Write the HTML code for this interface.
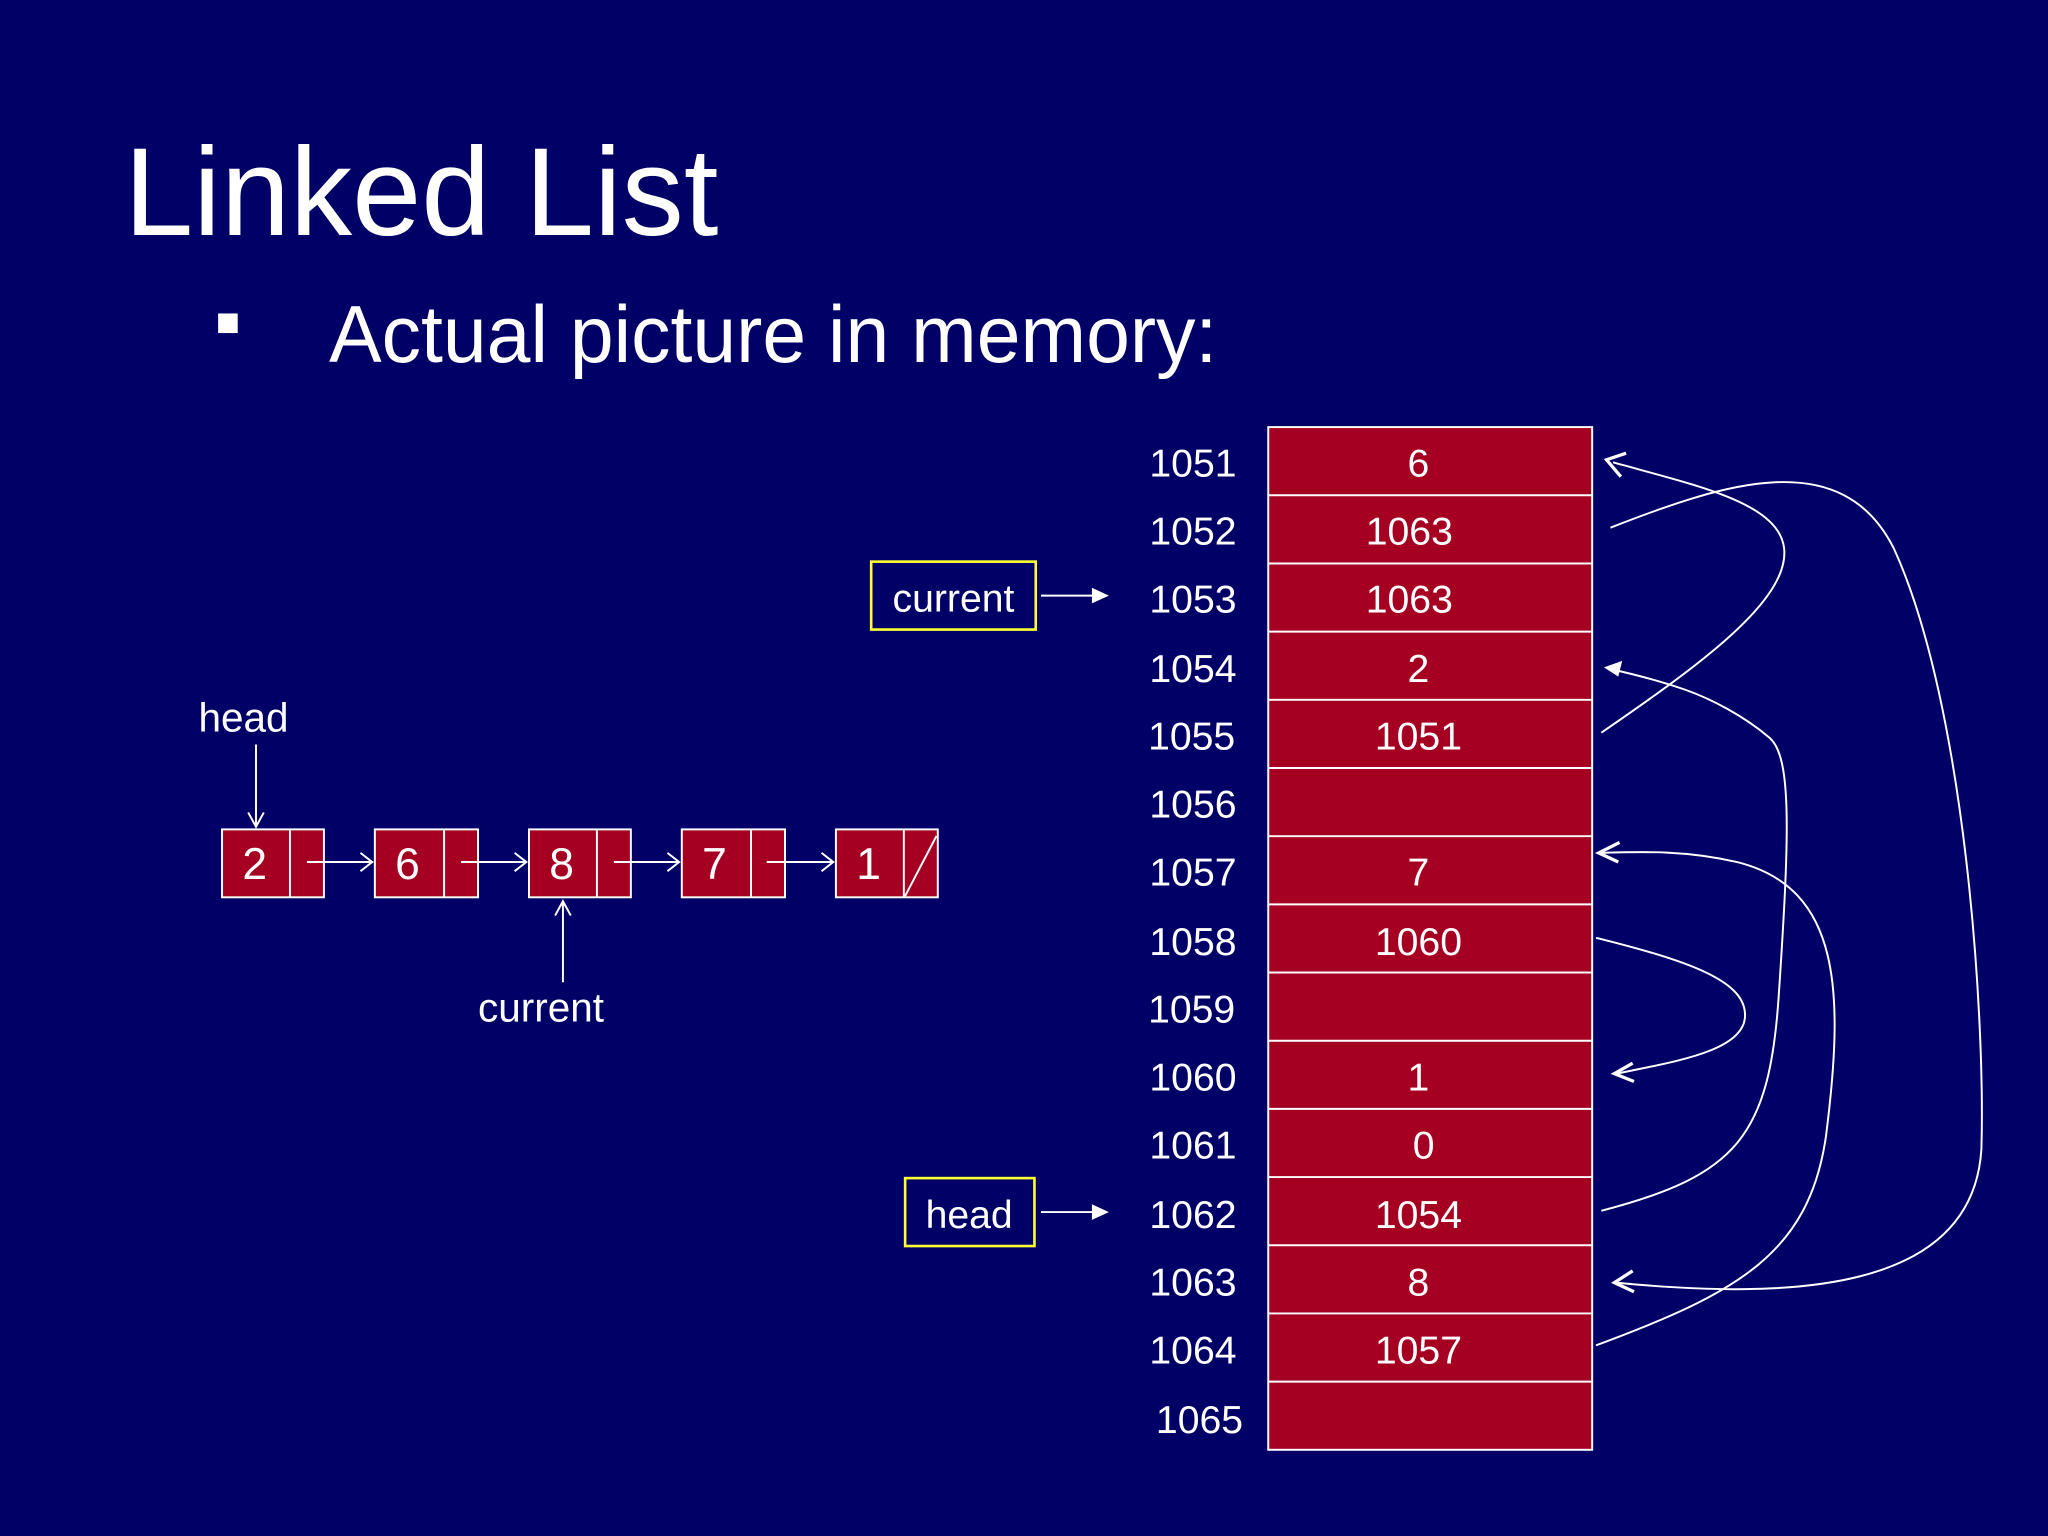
<!DOCTYPE html>
<html><head><meta charset="utf-8"><style>
html,body{margin:0;padding:0;background:#000066;}
svg{display:block;}
text{font-family:"Liberation Sans",Arial,sans-serif;fill:#fff;}
</style></head><body>
<svg width="2048" height="1536" viewBox="0 0 1568 1176" xmlns="http://www.w3.org/2000/svg">
<rect width="1568" height="1176" fill="#000066"/>
<text x="95" y="180" font-size="96" textLength="455" lengthAdjust="spacingAndGlyphs">Linked List</text>
<rect x="167" y="240" width="15" height="15" fill="#fff"/>
<text x="252" y="277" font-size="62" textLength="680" lengthAdjust="spacingAndGlyphs">Actual picture in memory:</text>

<!-- memory table -->
<g stroke="#fff" stroke-width="1.5">
<rect x="971" y="327" width="248" height="783" fill="#a50021"/>
<line x1="971" y1="379.2" x2="1219" y2="379.2"/><line x1="971" y1="431.4" x2="1219" y2="431.4"/>
<line x1="971" y1="483.6" x2="1219" y2="483.6"/><line x1="971" y1="535.8" x2="1219" y2="535.8"/>
<line x1="971" y1="588" x2="1219" y2="588"/><line x1="971" y1="640.2" x2="1219" y2="640.2"/>
<line x1="971" y1="692.4" x2="1219" y2="692.4"/><line x1="971" y1="744.6" x2="1219" y2="744.6"/>
<line x1="971" y1="796.8" x2="1219" y2="796.8"/><line x1="971" y1="849" x2="1219" y2="849"/>
<line x1="971" y1="901.2" x2="1219" y2="901.2"/><line x1="971" y1="953.4" x2="1219" y2="953.4"/>
<line x1="971" y1="1005.6" x2="1219" y2="1005.6"/><line x1="971" y1="1057.8" x2="1219" y2="1057.8"/>
</g>
<g font-size="30">
<text x="880" y="365">1051</text><text x="880" y="417">1052</text><text x="880" y="469">1053</text>
<text x="880" y="522">1054</text><text x="879" y="574">1055</text><text x="880" y="626">1056</text>
<text x="880" y="678">1057</text><text x="880" y="731">1058</text><text x="879" y="783">1059</text>
<text x="880" y="835">1060</text><text x="880" y="887">1061</text><text x="880" y="940">1062</text>
<text x="880" y="992">1063</text><text x="880" y="1044">1064</text><text x="885" y="1097">1065</text>
</g>
<g font-size="30" text-anchor="middle">
<text x="1086" y="365">6</text><text x="1079" y="417">1063</text><text x="1079" y="469">1063</text>
<text x="1086" y="522">2</text><text x="1086" y="574">1051</text>
<text x="1086" y="678">7</text><text x="1086" y="731">1060</text>
<text x="1086" y="835">1</text><text x="1090" y="887">0</text><text x="1086" y="940">1054</text>
<text x="1086" y="992">8</text><text x="1086" y="1044">1057</text>
</g>

<!-- yellow labels -->
<rect x="667" y="430" width="126" height="52" fill="none" stroke="#ffff33" stroke-width="2"/>
<text x="730" y="468" font-size="30" text-anchor="middle">current</text>
<rect x="693" y="902" width="99" height="52" fill="none" stroke="#ffff33" stroke-width="2"/>
<text x="742" y="940" font-size="30" text-anchor="middle">head</text>
<g stroke="#fff" stroke-width="1.5"><line x1="797" y1="456" x2="838" y2="456"/><line x1="797" y1="928" x2="838" y2="928"/></g>
<polygon points="849,456 836,450 836,462" fill="#fff"/>
<polygon points="849,928 836,922 836,934" fill="#fff"/>

<!-- curves -->
<g fill="none" stroke="#fff" stroke-width="1.5">
<path d="M1233 404 C1320 370 1410 340 1450 420 C1505 540 1520 780 1517 880 C1510 990 1370 995 1237 982"/>
<path d="M1226 561 C1300 510 1370 460 1366 420 C1362 385 1300 372 1235 354"/>
<path d="M1226 927 C1330 900 1355 870 1362 760 C1370 640 1372 580 1355 565 C1335 548 1310 535 1290 528 C1270 521 1250 516 1232 512"/>
<path d="M1222 1030 C1330 990 1385 960 1398 870 C1412 760 1410 680 1330 660 C1290 651 1260 652 1224 653"/>
<path d="M1222 718 C1290 735 1335 750 1336 776 C1338 805 1280 813 1238 822"/>
</g>
<g fill="none" stroke="#fff" stroke-width="2.5">
<polyline points="1245,347 1230,352 1241,365"/>
<polyline points="1240,645 1224,653 1239,660"/>
<polyline points="1250,814 1236,822 1251,828"/>
<polyline points="1250,973 1236,982 1251,989"/>
</g>
<polygon points="1228,511 1242,506 1239,518" fill="#fff"/>

<!-- linked list -->
<g stroke="#fff" stroke-width="1.5" fill="#a50021">
<rect x="170" y="635" width="78" height="52"/><line x1="222" y1="635" x2="222" y2="687"/>
<rect x="287" y="635" width="79" height="52"/><line x1="340" y1="635" x2="340" y2="687"/>
<rect x="405" y="635" width="78" height="52"/><line x1="457" y1="635" x2="457" y2="687"/>
<rect x="522" y="635" width="79" height="52"/><line x1="575" y1="635" x2="575" y2="687"/>
<rect x="640" y="635" width="78" height="52"/><line x1="692" y1="635" x2="692" y2="687"/>
<line x1="693" y1="686" x2="717" y2="640"/>
</g>
<g font-size="34" text-anchor="middle">
<text x="195" y="673">2</text><text x="312" y="673">6</text><text x="430" y="673">8</text>
<text x="547" y="673">7</text><text x="665" y="673">1</text>
</g>
<g stroke="#fff" stroke-width="1.5" fill="none">
<line x1="235" y1="660" x2="285" y2="660"/><polyline points="276,653 285,660 276,667"/>
<line x1="353" y1="660" x2="403" y2="660"/><polyline points="394,653 403,660 394,667"/>
<line x1="470" y1="660" x2="520" y2="660"/><polyline points="511,653 520,660 511,667"/>
<line x1="587" y1="660" x2="638" y2="660"/><polyline points="629,653 638,660 629,667"/>
<line x1="196" y1="570" x2="196" y2="633"/><polyline points="190,622 196,633 202,622"/>
<line x1="431" y1="752" x2="431" y2="690"/><polyline points="425,701 431,690 437,701"/>
</g>
<text x="152" y="560" font-size="31">head</text>
<text x="366" y="782" font-size="31">current</text>
</svg>
</body></html>
